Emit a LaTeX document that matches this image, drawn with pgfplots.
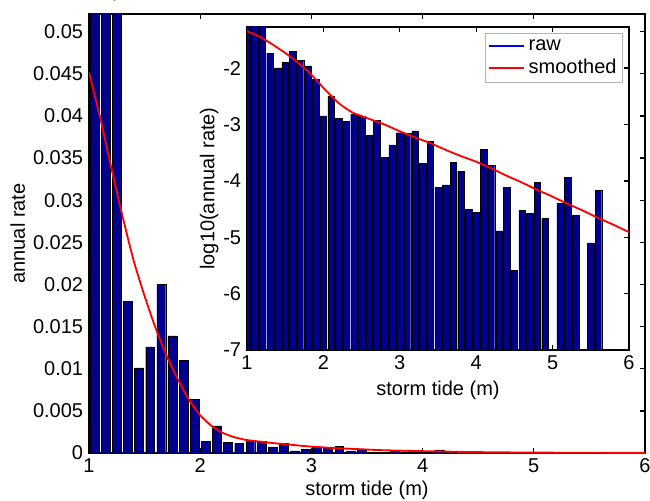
\documentclass[border=0pt]{standalone}
\usepackage{fontspec}
\setmainfont{Liberation Sans}
\usepackage{pgfplots}
\pgfplotsset{compat=1.18}
\usepackage{pgfplotstable}
\definecolor{barblue}{rgb}{0,0,0.5625}

% main histogram: bin centre, annual rate
\pgfplotstableread{
x y
1.05 0.095
1.15 0.075
1.25 0.062
1.35 0.0180
1.45 0.0101
1.55 0.0126
1.65 0.0200
1.75 0.0139
1.85 0.0110
1.95 0.00637
2.05 0.00142
2.15 0.00322
2.25 0.00128
2.35 0.00114
2.45 0.00152
2.55 0.00140
2.65 0.000644
2.75 0.00118
2.85 0.000262
2.95 0.000434
3.05 0.000714
3.15 0.000692
3.25 0.000769
3.35 0.000207
3.45 0.000505
3.55 0.000076
3.65 0.000085
3.75 0.000211
3.85 0.000150
3.95 0.000031
4.05 0.000028
4.15 0.000359
4.25 0.000189
4.35 0.000013
4.45 0.000078
4.55 0.0000026
4.65 0.000030
4.75 0.0000265
4.85 0.0000955
4.95 0.0000214
5.15 0.0000405
5.25 0.000114
5.35 0.0000247
5.55 0.0000079
5.65 0.0000681
}\mainbars

% smoothed annual rate
\pgfplotstableread{
x y
1.0 0.04519
1.1 0.03981
1.2 0.03388
1.3 0.02818
1.4 0.02291
1.5 0.01862
1.6 0.01479
1.7 0.01148
1.8 0.00871
1.9 0.00631
2.0 0.00447
2.1 0.00324
2.2 0.00240
2.3 0.00191
2.4 0.00158
2.5 0.00141
2.6 0.00126
2.7 0.00112
2.8 0.00100
2.9 0.00087
3.0 0.00076
3.2 0.00059
3.4 0.00047
3.6 0.00035
3.8 0.00028
4.0 0.00022
4.2 0.00017
4.4 0.00012
4.6 0.000093
4.8 0.000069
5.0 0.000052
5.2 0.000039
5.4 0.000030
5.6 0.000022
5.8 0.000017
6.0 0.000012
}\mainsmooth

% inset: log10(annual rate), bars at left bin edges
\pgfplotstableread{
x lv
1.0 -1.02
1.1 -1.12
1.2 -1.21
1.3 -1.739
1.4 -1.995
1.5 -1.899
1.6 -1.699
1.7 -1.858
1.8 -1.960
1.9 -2.196
2.0 -2.848
2.1 -2.492
2.2 -2.894
2.3 -2.942
2.4 -2.818
2.5 -2.853
2.6 -3.191
2.7 -2.929
2.8 -3.581
2.9 -3.363
3.0 -3.146
3.1 -3.160
3.2 -3.114
3.3 -3.683
3.4 -3.297
3.5 -4.119
3.6 -4.070
3.7 -3.675
3.8 -3.825
3.9 -4.508
4.0 -4.553
4.1 -3.445
4.2 -3.723
4.3 -4.887
4.4 -4.109
4.5 -5.583
4.6 -4.523
4.7 -4.576
4.8 -4.020
4.9 -4.670
5.1 -4.393
5.2 -3.942
5.3 -4.608
5.5 -5.100
5.6 -4.167
}\insetbars

\pgfplotstableread{
x lv
1.0 -1.345
1.1 -1.40
1.2 -1.47
1.3 -1.55
1.4 -1.64
1.5 -1.73
1.6 -1.83
1.7 -1.94
1.8 -2.06
1.9 -2.20
2.0 -2.35
2.1 -2.49
2.2 -2.62
2.3 -2.72
2.4 -2.80
2.5 -2.85
2.6 -2.90
2.7 -2.95
2.8 -3.00
2.9 -3.06
3.0 -3.12
3.2 -3.23
3.4 -3.33
3.6 -3.45
3.8 -3.56
4.0 -3.66
4.2 -3.78
4.4 -3.91
4.6 -4.03
4.8 -4.16
5.0 -4.28
5.2 -4.41
5.4 -4.53
5.6 -4.66
5.8 -4.78
6.0 -4.91
}\insetsmooth

\pgfplotsset{
  matstyle/.style={
    scale only axis,
    tick align=inside,
    major tick length=3pt,
    tick style={black, line width=0.8pt},
    axis line style={black, line width=0.9pt},
    xtick={1,2,3,4,5,6},
    xticklabels={1,2,3,4,5,6},
    xmin=1, xmax=6,
  },
}

\begin{document}
\begin{tikzpicture}[font=\fontsize{12}{14.4}\selectfont]
\useasboundingbox (0,0) rectangle (390pt,300pt);
% ---------- main axis ----------
\begin{axis}[matstyle,
  at={(53.4pt,28.2pt)}, anchor=south west,
  width=333.6pt, height=263.4pt,
  ymin=0, ymax=0.0521,
  ytick={0,0.005,0.01,0.015,0.02,0.025,0.03,0.035,0.04,0.045,0.05},
  yticklabels={0,0.005,0.01,0.015,0.02,0.025,0.03,0.035,0.04,0.045,0.05},
  xlabel={storm tide (m)},
  ylabel={annual rate},
  xlabel style={yshift=2pt},
  ylabel style={yshift=-2pt},
]
\addplot[ybar, bar width=0.08, bar shift=0pt, fill=barblue, draw=black, line width=0.2pt]
  table[x=x, y=y] {\mainbars};
\addplot[red, line width=1.1pt, smooth, tension=0.4] table[x=x, y=y] {\mainsmooth};
\end{axis}
% ---------- inset axis (log10 values, drawn up from -7) ----------
\begin{axis}[matstyle,
  at={(148.2pt,90pt)}, anchor=south west,
  width=229.2pt, height=193.8pt,
  axis background/.style={fill=white},
  ymin=0, ymax=5.73,
  ytick={0,1,2,3,4,5},
  yticklabels={-7,-6,-5,-4,-3,-2},
  xlabel={storm tide (m)},
  ylabel={log10(annual rate)},
  xlabel style={yshift=0pt},
  ylabel style={yshift=-4pt},
  legend style={at={(0.984,0.981)}, anchor=north east, draw=gray!60,
    line width=0.6pt, fill=white, inner sep=1.5pt, row sep=0pt,
    font=\fontsize{12}{14.4}\selectfont},
  legend cell align=left,
]
\addplot[ybar, bar width=0.085, bar shift=0pt, fill=barblue, draw=black, line width=0.2pt,
  legend image code/.code={\draw[blue, line width=1.1pt] (0cm,0cm) -- (0.74cm,0cm);}]
  table[x=x, y expr=\thisrow{lv}+7] {\insetbars};
\addlegendentry{raw}
\addplot[red, line width=1.1pt, smooth, tension=0.4,
  legend image code/.code={\draw[red, line width=1.1pt] (0cm,0cm) -- (0.74cm,0cm);}]
  table[x=x, y expr=\thisrow{lv}+7] {\insetsmooth};
\addlegendentry{smoothed}
\end{axis}
\end{tikzpicture}
\end{document}
